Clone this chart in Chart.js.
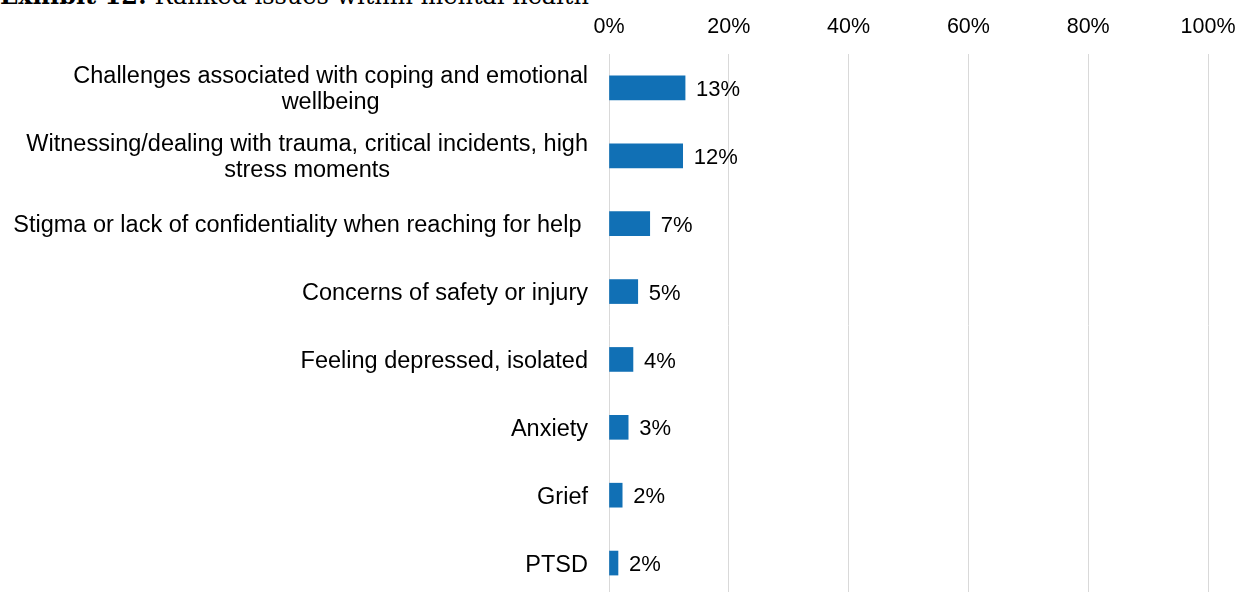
<!DOCTYPE html>
<html>
<head>
    <title>Ranked issues within mental health</title>
    <script src="https://cdn.jsdelivr.net/npm/chart.js"></script>
    <style>
        html, body {
            margin: 0;
            padding: 0;
            background: #fff;
            overflow: hidden;
        }
        #title {
            position: absolute;
            left: 0;
            top: -16px;
            font-family: "DejaVu Serif", serif;
            font-size: 24px;
            line-height: 24px;
            color: #000;
            white-space: nowrap;
        }
        .chart-container {
            position: absolute;
            left: 0;
            top: 0;
            width: 1241px;
            height: 597px;
        }
    </style>
</head>
<body>
    <div id="title"><b>Exhibit 12:</b> Ranked issues within mental health</div>
    <div class="chart-container">
        <canvas id="issuesChart"></canvas>
    </div>

    <script>
        // categories (multi-line labels as shown in the picture)
        const categories = [
            ['Challenges associated with coping and emotional', 'wellbeing'],
            ['Witnessing/dealing with trauma, critical incidents, high', 'stress moments'],
            ['Stigma or lack of confidentiality when reaching for help '],
            ['Concerns of safety or injury'],
            ['Feeling depressed, isolated'],
            ['Anxiety'],
            ['Grief'],
            ['PTSD']
        ];
        const shares = [12.7, 12.3, 6.8, 4.8, 4.0, 3.2, 2.2, 1.5];
        const xTicks = [0, 20, 40, 60, 80, 100];

        const FONT = '"Liberation Sans", Arial, sans-serif';

        // y labels: block right aligned, lines centred inside the block (like Excel)
        const categoryLabels = {
            id: 'categoryLabels',
            afterDraw(chart) {
                const ctx = chart.ctx;
                const yScale = chart.scales.y;
                const right = chart.chartArea.left - 21;
                const lh = 26;
                ctx.save();
                ctx.font = '23.5px ' + FONT;
                ctx.fillStyle = '#000';
                ctx.textBaseline = 'middle';
                ctx.textAlign = 'center';
                categories.forEach((lines, i) => {
                    const y = yScale.getPixelForValue(i) + 2;
                    const w = Math.max(...lines.map(l => ctx.measureText(l).width));
                    const cx = right - w / 2;
                    lines.forEach((l, k) => {
                        ctx.fillText(l, cx, y + (k - (lines.length - 1) / 2) * lh);
                    });
                });
                ctx.restore();
            }
        };

        // value labels at the end of each bar
        const valueLabels = {
            id: 'valueLabels',
            afterDatasetsDraw(chart) {
                const ctx = chart.ctx;
                const meta = chart.getDatasetMeta(0);
                ctx.save();
                ctx.font = '22px ' + FONT;
                ctx.fillStyle = '#000';
                ctx.textBaseline = 'middle';
                ctx.textAlign = 'left';
                meta.data.forEach((bar, i) => {
                    ctx.fillText(Math.round(shares[i]) + '%', bar.x + 11, bar.y + 2);
                });
                ctx.restore();
            }
        };

        const ctx = document.getElementById('issuesChart').getContext('2d');
        new Chart(ctx, {
            type: 'bar',
            data: {
                labels: categories,
                datasets: [{
                    data: shares,
                    backgroundColor: '#1170B5',
                    barThickness: 24
                }]
            },
            options: {
                indexAxis: 'y',
                responsive: true,
                maintainAspectRatio: false,
                animation: false,
                layout: { padding: { left: 0, right: 33, top: 0, bottom: 0 } },
                plugins: {
                    legend: { display: false },
                    tooltip: { enabled: false }
                },
                scales: {
                    x: {
                        position: 'top',
                        min: 0,
                        max: 100,
                        afterBuildTicks: scale => {
                            scale.ticks = xTicks.map(v => ({ value: v }));
                        },
                        afterFit: scale => {
                            scale.height = 54;
                            scale.paddingLeft = 0;
                            scale.paddingRight = 0;
                        },
                        ticks: {
                            padding: 14,
                            color: '#000',
                            font: { family: FONT, size: 21.5 },
                            callback: v => v + '%'
                        },
                        grid: { color: '#d9d9d9', drawTicks: false },
                        border: { display: false }
                    },
                    y: {
                        afterFit: scale => { scale.width = 609; },
                        ticks: { display: false },
                        grid: { display: false },
                        border: { display: false }
                    }
                }
            },
            plugins: [categoryLabels, valueLabels]
        });
    </script>
</body>
</html>
